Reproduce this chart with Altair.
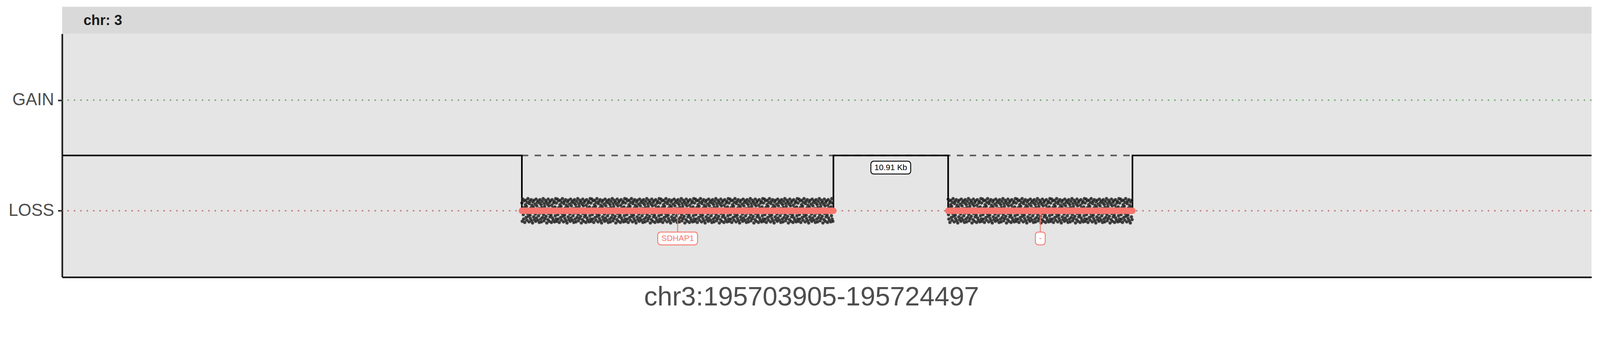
import altair as alt
import pandas as pd

# ---------------------------------------------------------
# DATA
# ---------------------------------------------------------
CHROM = "3"
REGION = "chr3:195703905-195724497"
X_DOMAIN = [195688400, 195739980]

STATE_NAMES = ["GAIN", "LOSS"]
STATE_LEVELS = [1, -1]

SEG_START = [195703905, 195718281]
SEG_END = [195714412, 195724497]
SEG_LEVEL = [-1, -1]
SEG_GENE = ["SDHAP1", "-"]

GAP_LABEL = "10.91 Kb"
GAP_LABEL_Y = -0.22
GENE_LABEL_Y = -1.5

PROBE_STEP = 12
PROBE_SCATTER = [
    0.14, -0.19, 0.03, 0.21, -0.07, -0.15, 0.18, 0.06, -0.21, -0.02,
    0.11, 0.19, -0.12, 0.08, -0.17, 0.15, -0.05, 0.22, -0.10, 0.01,
    -0.20, 0.13, 0.17, -0.08, -0.14, 0.05, 0.20, -0.18, 0.10, -0.03,
    -0.22, 0.16, 0.07, -0.11, 0.19, -0.16, 0.02, 0.12, -0.06, -0.19,
    0.21, -0.13, 0.09, 0.15, -0.01, -0.17, 0.18, -0.09, 0.04, -0.21,
    0.14, 0.20, -0.04, -0.15, 0.11, -0.20, 0.06, 0.17, -0.12, 0.00,
    0.22, -0.07, -0.18, 0.13, 0.08, -0.14, 0.19, -0.02, -0.10, 0.16,
    -0.22, 0.03, 0.12, -0.16, 0.21, -0.05, 0.09, -0.19, 0.15, -0.11,
    0.18, 0.01, -0.08, -0.21, 0.10, 0.20, -0.13, 0.05, -0.17, 0.14,
    -0.03, 0.17, -0.20, 0.07, -0.09, 0.22, -0.15,
]

# ---------------------------------------------------------
# STYLE
# ---------------------------------------------------------
W, H = 4303, 684
STRIP_H = 76
FONT = "Liberation Sans"
SALMON = "#F8766D"
LABEL_SIZE = 23
# Arial advance widths (em) for the label boxes
CHAR_EM = {"S": .667, "D": .722, "H": .722, "A": .667, "P": .667, "K": .667,
           "b": .556, ".": .278, " ": .278, "-": .333}


def text_px(s, size):
    return sum(CHAR_EM.get(c, .556) for c in s) * size


def x_enc(field):
    return alt.X(
        f"{field}:Q",
        scale=alt.Scale(domain=X_DOMAIN, nice=False, zero=False),
        axis=alt.Axis(title=REGION, labels=False, ticks=False, grid=False,
                      domainColor="#1A1A1A", domainWidth=4.5,
                      titleFontSize=75, titleFont=FONT, titleFontWeight="normal",
                      titleColor="#4D4D4D", titlePadding=20, titleX=2108),
    )


def y_enc(field):
    return alt.Y(
        f"{field}:Q",
        scale=alt.Scale(domain=[-2.2, 2.2], nice=False, zero=False),
        axis=alt.Axis(title=None, values=STATE_LEVELS, grid=False,
                      labelExpr="datum.value > 0 ? 'GAIN' : 'LOSS'",
                      labelFontSize=48, labelFont=FONT, labelColor="#4D4D4D",
                      labelPadding=11, tickColor="#333333", tickWidth=4.5,
                      tickSize=12, domainColor="#1A1A1A", domainWidth=4.5),
    )


# ---------------------------------------------------------
# TABLES
# ---------------------------------------------------------
ref_df = pd.DataFrame({"state": STATE_NAMES, "y": STATE_LEVELS})

step_x = [X_DOMAIN[0]]
step_y = [0]
for s, e, lv in zip(SEG_START, SEG_END, SEG_LEVEL):
    step_x += [s, e]
    step_y += [lv, 0]
step_x.append(X_DOMAIN[1])
step_y.append(0)
step_df = pd.DataFrame({"pos": step_x, "y": step_y})

span_df = pd.DataFrame({"start": [SEG_START[0]], "end": [SEG_END[-1]], "y": [0]})

seg_df = pd.DataFrame({"start": SEG_START, "end": SEG_END, "y": SEG_LEVEL,
                       "gene": SEG_GENE})
seg_df["mid"] = (seg_df["start"] + seg_df["end"]) / 2
seg_df["label_y"] = GENE_LABEL_Y

probe_rows = []
k = 0
for s, e, lv in zip(SEG_START, SEG_END, SEG_LEVEL):
    for p in range(s, e + 1, PROBE_STEP):
        probe_rows.append({"pos": p, "y": lv + PROBE_SCATTER[k % len(PROBE_SCATTER)]})
        k += 1
probe_df = pd.DataFrame(probe_rows)

gap_df = pd.DataFrame({"mid": [(SEG_END[0] + SEG_START[1]) / 2],
                       "label_y": [GAP_LABEL_Y], "text": [GAP_LABEL]})

strip_df = pd.DataFrame({"label": [f"chr: {CHROM}"]})

# ---------------------------------------------------------
# LAYERS
# ---------------------------------------------------------
# facet strip drawn above the panel
strip_bg = alt.Chart(strip_df).mark_rect(color="#D9D9D9").encode(
    x=alt.value(0), x2=alt.value(W), y=alt.value(-STRIP_H), y2=alt.value(0)
)
strip_text = alt.Chart(strip_df).mark_text(
    align="left", baseline="middle", fontSize=40, fontWeight="bold",
    font=FONT, color="#1A1A1A"
).encode(x=alt.value(60), y=alt.value(-STRIP_H / 2 + 2), text="label:N")

ref_rules = alt.Chart(ref_df).mark_rule(strokeWidth=4, strokeDash=[4, 14]).encode(
    y=y_enc("y"),
    color=alt.Color("state:N", scale=alt.Scale(domain=STATE_NAMES,
                                               range=["#6FA86F", "#C67979"]),
                    legend=None),
)

span_line = alt.Chart(span_df).mark_rule(
    color="#595959", strokeWidth=4.5, strokeDash=[18, 18]
).encode(x=x_enc("start"), x2="end", y=y_enc("y"))

step_line = alt.Chart(step_df).mark_line(
    interpolate="step-after", color="black", strokeWidth=4.5
).encode(x=x_enc("pos"), y=y_enc("y"))

probes = alt.Chart(probe_df).mark_circle(
    size=70, fill="black", fillOpacity=0.75, stroke="#555555",
    strokeOpacity=0.6, strokeWidth=1.8
).encode(x=x_enc("pos"), y=y_enc("y"))

seg_bars = alt.Chart(seg_df).mark_rule(
    color=SALMON, strokeWidth=18, strokeCap="round"
).encode(x=x_enc("start"), x2="end", y=y_enc("y"))

connectors = alt.Chart(seg_df).mark_rule(color=SALMON, strokeWidth=2.5).encode(
    x=x_enc("mid"), y=y_enc("y"), y2="label_y"
)

layers = [strip_bg, strip_text, ref_rules, span_line, step_line, probes,
          seg_bars, connectors]


def boxed_label(df, text, color):
    w = text_px(text, LABEL_SIZE) + 20
    box = alt.Chart(df).mark_rect(
        fill="white", stroke=color, strokeWidth=2.5, cornerRadius=8,
        xOffset=-w / 2, x2Offset=w / 2, yOffset=-18, y2Offset=18
    ).encode(x=x_enc("mid"), x2="mid", y=y_enc("label_y"), y2="label_y")
    txt = alt.Chart(df).mark_text(
        fontSize=LABEL_SIZE, font=FONT, color=color, baseline="middle"
    ).encode(x=x_enc("mid"), y=y_enc("label_y"), text=alt.value(text))
    return [box, txt]


for i, gene in enumerate(SEG_GENE):
    layers += boxed_label(seg_df.iloc[[i]], gene, SALMON)
layers += boxed_label(gap_df, GAP_LABEL, "black")

chart = alt.layer(*layers).properties(
    width=W, height=H,
    autosize=alt.AutoSizeParams(type="none"),
    padding={"left": 166, "top": 15 + STRIP_H - 46, "right": 15, "bottom": 100},
    view=alt.ViewBackground(fill="#E5E5E5", strokeWidth=0),
).configure_view(strokeWidth=0)

chart.save("out.html", embed_options={"renderer": "svg", "actions": False})
